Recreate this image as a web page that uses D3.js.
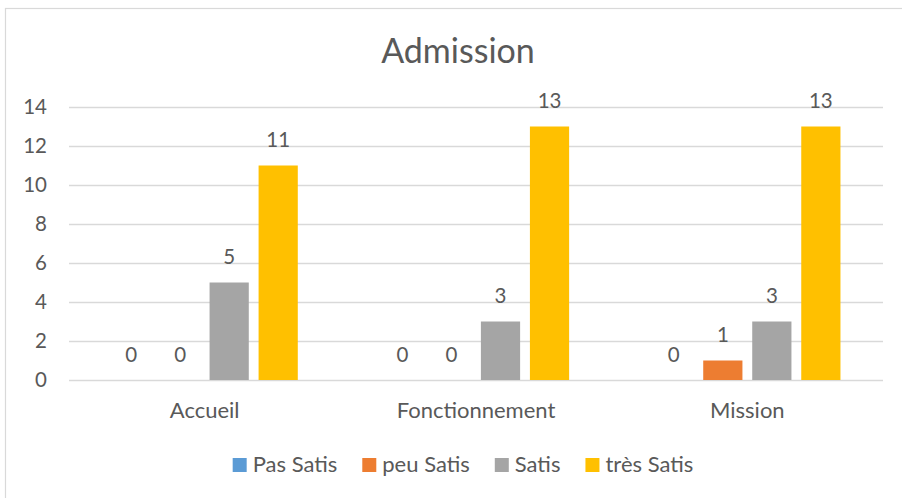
<!DOCTYPE html>
<html>
<head>
<meta charset="utf-8">
<script src="https://cdn.jsdelivr.net/npm/d3@7"></script>
<style>
  html, body { margin: 0; padding: 0; background: #fff; }
  svg { display: block; font-family: Lato, "Open Sans", sans-serif; }
</style>
</head>
<body>
<svg id="chart" width="902" height="498"></svg>
<script>
const title = "Admission";
const categories = ["Accueil", "Fonctionnement", "Mission"];
const seriesNames = ["Pas Satis", "peu Satis", "Satis", "très Satis"];
const pasSatis = [0, 0, 0];
const peuSatis = [0, 0, 1];
const satis = [5, 3, 3];
const tresSatis = [11, 13, 13];
const seriesValues = [pasSatis, peuSatis, satis, tresSatis];
const colors = ["#5B9BD5", "#ED7D31", "#A5A5A5", "#FFC000"];
const yTicks = [0, 2, 4, 6, 8, 10, 12, 14];

const svg = d3.select("#chart");
const textColor = "#595959";
const plotLeft = 69, plotRight = 883, plotTop = 107, plotBottom = 380;

// frame
svg.append("rect").attr("x", 5.5).attr("y", 8.5).attr("width", 910).attr("height", 500)
  .attr("fill", "none").attr("stroke", "#D9D9D9").attr("stroke-width", 1.2);

// title
svg.append("text").attr("x", 458).attr("y", 63).attr("text-anchor", "middle")
  .attr("fill", textColor).style("font-size", "34px").text(title);

const y = d3.scaleLinear().domain([0, 14]).range([plotBottom, plotTop]);
const x0 = d3.scaleBand().domain(categories).range([plotLeft, plotRight]).padding(0);
const x1 = d3.scaleBand().domain(seriesNames).range([0, x0.bandwidth()])
  .paddingInner(0.2).paddingOuter(0.868);

// gridlines
const grid = svg.append("g").attr("transform", `translate(${plotLeft},0)`)
  .call(d3.axisLeft(y).tickValues(yTicks).tickSize(-(plotRight - plotLeft)).tickFormat(""));
grid.select(".domain").remove();
grid.selectAll("line").attr("stroke", "#D9D9D9").attr("stroke-width", 1.3);

// y axis labels
const yAxis = svg.append("g").attr("transform", `translate(47,0)`)
  .call(d3.axisLeft(y).tickValues(yTicks).tickSize(0).tickPadding(0));
yAxis.select(".domain").remove();
yAxis.selectAll("text").attr("fill", textColor).style("font-size", "20.5px")
  .style("font-family", "Lato, 'Open Sans', sans-serif").attr("dy", "0.33em");

// x axis labels
const xAxis = svg.append("g").attr("transform", `translate(0,${plotBottom})`)
  .call(d3.axisBottom(x0).tickSize(0).tickPadding(0));
xAxis.select(".domain").remove();
xAxis.selectAll("text").attr("fill", textColor).style("font-size", "22px")
  .style("font-family", "Lato, 'Open Sans', sans-serif").attr("y", 38).attr("dy", 0);

// bars
const rows = [];
categories.forEach((c, ci) => {
  seriesNames.forEach((s, si) => rows.push({cat: c, ser: s, v: seriesValues[si][ci], si}));
});
const g = svg.append("g");
g.selectAll("rect.bar").data(rows).join("rect").attr("class", "bar")
  .attr("x", d => x0(d.cat) + x1(d.ser))
  .attr("width", x1.bandwidth())
  .attr("y", d => y(d.v))
  .attr("height", d => y(0) - y(d.v))
  .attr("fill", d => colors[d.si]);

g.selectAll("text.lbl").data(rows).join("text").attr("class", "lbl")
  .attr("x", d => x0(d.cat) + x1(d.ser) + x1.bandwidth() / 2)
  .attr("y", d => y(d.v) - 18.5)
  .attr("text-anchor", "middle").attr("fill", textColor).style("font-size", "20.5px")
  .text(d => d.v);

// legend
const leg = svg.append("g");
const items = leg.selectAll("g").data(seriesNames).join("g");
items.append("rect").attr("width", 14).attr("height", 14).attr("y", 458)
  .attr("fill", (d, i) => colors[i]);
items.append("text").attr("x", 20).attr("y", 472).attr("fill", textColor)
  .style("font-size", "22px").text(d => d);
let widths = [];
items.each(function() { widths.push(20 + this.querySelector("text").getComputedTextLength()); });
const gap = 25;
const total = d3.sum(widths) + gap * (widths.length - 1);
let cx = 463 - total / 2;
items.attr("transform", (d, i) => { const t = `translate(${cx},0)`; cx += widths[i] + gap; return t; });
</script>
</body>
</html>
